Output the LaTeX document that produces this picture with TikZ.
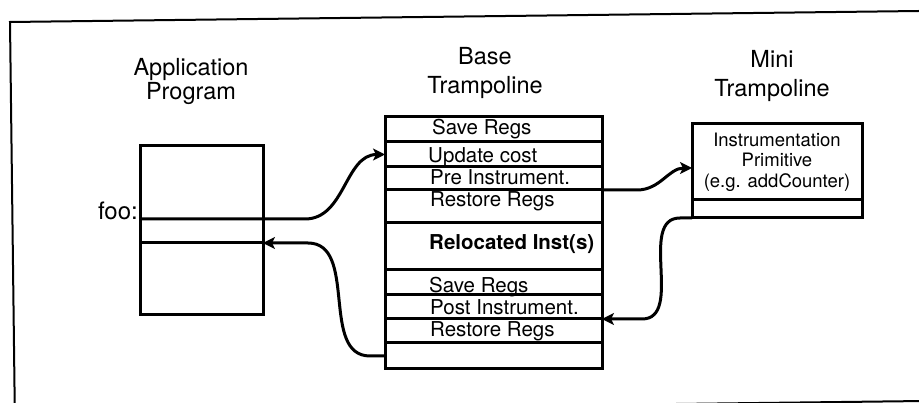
\documentclass[tikz,border=0pt]{standalone}
\usepackage{fontspec}
\setmainfont{TeX Gyre Heros}
\usetikzlibrary{arrows.meta,positioning,calc}

\begin{document}
\begin{tikzpicture}[
  x=1pt, y=-1pt,
  title/.style={align=center,font=\fontsize{23.5}{29}\selectfont,inner sep=0pt,anchor=base},
  box/.style={draw,line width=3pt,minimum width=217pt,inner sep=0pt,outer sep=0pt},
  lbl/.style={font=\fontsize{20.5}{24}\selectfont,inner sep=0pt,anchor=base west},
  arrow/.style={-{Stealth[length=12pt,width=12pt,inset=3pt]},line width=3pt}
]
  \useasboundingbox (0,0) rectangle (919,403);
  \clip (0,0) rectangle (919,403);

  % frame
  \draw[line width=2pt] (14.7,403) -- (10,22) -- (919,11);
  \draw[line width=2pt] (15,412) -- (924,401);

  % titles
  \node[title,font=\fontsize{23.5}{24}\selectfont] (apptitle) at (191,100) {Application\\Program};
  \node[title] (basetitle) at (485,94) {Base\\Trampoline};
  \node[title] (minititle) at (772,97) {Mini\\Trampoline};

  % application program
  \node[box,minimum width=123pt,minimum height=169pt,anchor=north west] (app) at (140,146) {};
  \coordinate (foo) at (app.west |- 0,219);
  \coordinate (back) at (app.east |- 0,243);
  \draw[line width=3pt] (app.west |- back) -- (back);
  \node[font=\fontsize{24}{28}\selectfont,inner sep=0pt,anchor=base east] (foolbl) at ($(foo)+(-2,1)$) {foo:};

  % base trampoline
  \node[box,minimum height=25pt,anchor=north west] (r1) at (385,117) {};
  \node[box,minimum height=25pt,below=0pt of r1] (r2) {};
  \node[box,minimum height=23pt,below=0pt of r2] (r3) {};
  \node[box,minimum height=33pt,below=0pt of r3] (r4) {};
  \node[box,minimum height=47pt,below=0pt of r4] (r5) {};
  \node[box,minimum height=25pt,below=0pt of r5] (r6) {};
  \node[box,minimum height=24pt,below=0pt of r6] (r7) {};
  \node[box,minimum height=24pt,below=0pt of r7] (r8) {};
  \node[box,minimum height=26pt,below=0pt of r8] (r9) {};

  \node[lbl] (t1) at ($(r1.south west)+(47,-7)$) {Save Regs};
  \node[lbl] (t2) at ($(r2.south west)+(43,-4)$) {Update cost};
  \node[lbl] (t3) at ($(r3.south west)+(45,-5)$) {Pre Instrument.};
  \node[lbl] (t4) at ($(r4.south west)+(45,-16)$) {Restore Regs};
  \node[lbl,font=\fontsize{20.5}{24}\selectfont\bfseries] (t5) at ($(r5.south west)+(44,-20)$) {Relocated Inst(s)};
  \node[lbl] (t6) at ($(r6.south west)+(44,-2)$) {Save Regs};
  \node[lbl] (t7) at ($(r7.south west)+(45,-4)$) {Post Instrument.};
  \node[lbl] (t8) at ($(r8.south west)+(45,-6)$) {Restore Regs};

  % mini trampoline
  \node[box,minimum width=170pt,minimum height=76pt,anchor=north west,align=center,
        font=\fontsize{18.5}{20.5}\selectfont] (mini) at (692,124)
        {Instrumentation\\Primitive\\(e.g. addCounter)};
  \node[box,minimum width=170pt,minimum height=18pt,below=0pt of mini] (minib) {};
  \coordinate (mIn) at (mini.west |- 0,168);

  % control flow
  \draw[arrow] (foo) -- ++(165,0) to[out=0,in=180] (r2.west);
  \draw[arrow] (r3.south east) -- ++(35,0) to[out=0,in=180] (mIn);
  \draw[arrow] (minib.south west) -- ++(-12,0) to[out=180,in=0] ($(r7.south east)+(40,0)$) -- (r7.south east);
  \draw[arrow] (r9.west) -- ++(-15,0) to[out=180,in=0] ($(back)+(45,0)$) -- (back);
\end{tikzpicture}
\end{document}
